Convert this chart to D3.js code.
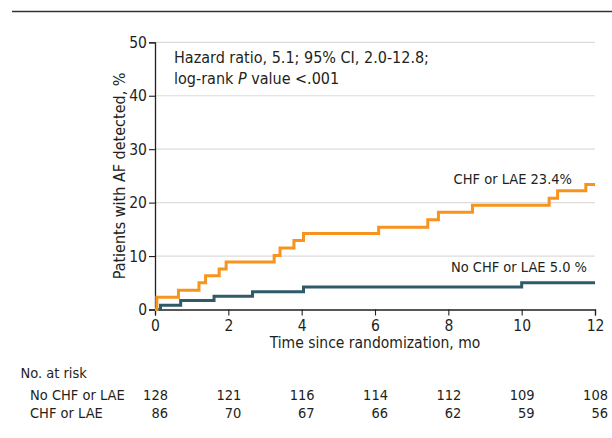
<!DOCTYPE html>
<html>
<head>
<meta charset="utf-8">
<script src="https://cdn.jsdelivr.net/npm/d3@7"></script>
<style>
    body { margin: 0; background: #fff; }
    svg text { font-family: "Liberation Sans Narrow", "DejaVu Sans Condensed", sans-serif; fill: #231f20; }
</style>
</head>
<body>
<div id="chart"></div>
<script>

// time points (mo) and cumulative % with AF detected
let chfTimes = [0, 0.05, 0.64, 1.2, 1.38, 1.75, 1.94, 3.25, 3.41, 3.79, 4.05, 6.1, 7.44, 7.73, 8.66, 10.75, 10.98, 11.75, 12];
let chfPct   = [0, 2.3, 3.6, 5.0, 6.3, 7.6, 8.9, 10.1, 11.5, 12.9, 14.2, 15.4, 16.8, 18.2, 19.5, 20.8, 22.2, 23.4, 23.4];

let noTimes = [0, 0.15, 0.7, 1.61, 2.66, 4.05, 10.0, 12];
let noPct   = [0, 0.8, 1.7, 2.5, 3.3, 4.2, 5.0, 5.0];

// number at risk table
let riskTimes = [0, 2, 4, 6, 8, 10, 12];
let noRisk  = [128, 121, 116, 114, 112, 109, 108];
let chfRisk = [86, 70, 67, 66, 62, 59, 56];

let xTicks = [0, 2, 4, 6, 8, 10, 12];
let yTicks = [0, 10, 20, 30, 40, 50];

let width = 612, height = 438;

let svg = d3.select("#chart").append("svg")
    .attr("width", width)
    .attr("height", height);

// scales
let x = d3.scaleLinear().domain([0, 12]).range([155, 595]);
let y = d3.scaleLinear().domain([0, 50]).range([309.5, 42.3]);

// top rule
svg.append("line")
    .attr("x1", 12).attr("x2", 612)
    .attr("y1", 11.5).attr("y2", 11.5)
    .attr("stroke", "#333")
    .attr("stroke-width", 1.5);

// gridlines
svg.append("g")
    .selectAll("line")
    .data(yTicks.filter(d => d > 0))
    .join("line")
    .attr("x1", x(0)).attr("x2", x(12))
    .attr("y1", d => y(d)).attr("y2", d => y(d))
    .attr("stroke", "#dcdcdc")
    .attr("stroke-width", 1.2);

// axes
let yAxis = svg.append("g")
    .attr("transform", `translate(${x(0)},0)`)
    .call(d3.axisLeft(y).tickValues(yTicks).tickSize(6).tickPadding(2));

let xAxis = svg.append("g")
    .attr("transform", `translate(0,${y(0)})`)
    .call(d3.axisBottom(x).tickValues(xTicks).tickSize(6).tickPadding(4));

[yAxis, xAxis].forEach(function(ax) {
    ax.select(".domain").attr("stroke", "#231f20").attr("stroke-width", 1.3);
    ax.selectAll(".tick line").attr("stroke", "#231f20").attr("stroke-width", 1.1);
    ax.selectAll(".tick text").style("font-size", "15.5px").attr("fill", "#231f20");
});

// axis titles
svg.append("text")
    .attr("transform", "rotate(-90)")
    .attr("x", -(y(0) + y(50)) / 2)
    .attr("y", 125)
    .attr("text-anchor", "middle")
    .style("font-size", "16px")
    .text("Patients with AF detected, %");

svg.append("text")
    .attr("x", (x(0) + x(12)) / 2)
    .attr("y", 348)
    .attr("text-anchor", "middle")
    .style("font-size", "15.5px")
    .text("Time since randomization, mo");

// curves
let line = d3.line()
    .curve(d3.curveStepAfter)
    .x(d => x(d[0]))
    .y(d => y(d[1]));

svg.append("path")
    .datum(d3.zip(noTimes, noPct))
    .attr("d", line)
    .attr("fill", "none")
    .attr("stroke", "#2f5a67")
    .attr("stroke-width", 3);

svg.append("path")
    .datum(d3.zip(chfTimes, chfPct))
    .attr("d", line)
    .attr("fill", "none")
    .attr("stroke", "#f7941e")
    .attr("stroke-width", 3);

// curve labels
svg.append("text")
    .attr("x", 572).attr("y", 184)
    .attr("text-anchor", "end")
    .style("font-size", "14.5px")
    .text("CHF or LAE 23.4%");

svg.append("text")
    .attr("x", 587).attr("y", 272)
    .attr("text-anchor", "end")
    .style("font-size", "14.5px")
    .text("No CHF or LAE 5.0 %");

// stats note
let note = svg.append("g").style("font-size", "16px");
note.append("text")
    .attr("x", 174).attr("y", 63)
    .text("Hazard ratio, 5.1; 95% CI, 2.0-12.8;");
let note2 = note.append("text")
    .attr("x", 174).attr("y", 84);
note2.append("tspan").text("log-rank ");
note2.append("tspan").style("font-style", "italic").text("P");
note2.append("tspan").text(" value <.001");

// number at risk
let risk = svg.append("g").style("font-size", "14.5px");
risk.append("text").attr("x", 20.5).attr("y", 378).text("No. at risk");
risk.append("text").attr("x", 30).attr("y", 400).text("No CHF or LAE");
risk.append("text").attr("x", 30).attr("y", 418).text("CHF or LAE");

risk.selectAll(".noRisk")
    .data(d3.zip(riskTimes, noRisk))
    .join("text")
    .attr("class", "noRisk")
    .attr("x", d => x(d[0]) + 13)
    .attr("y", 400)
    .attr("text-anchor", "end")
    .text(d => d[1]);

risk.selectAll(".chfRisk")
    .data(d3.zip(riskTimes, chfRisk))
    .join("text")
    .attr("class", "chfRisk")
    .attr("x", d => x(d[0]) + 13)
    .attr("y", 418)
    .attr("text-anchor", "end")
    .text(d => d[1]);

</script>
</body>
</html>
